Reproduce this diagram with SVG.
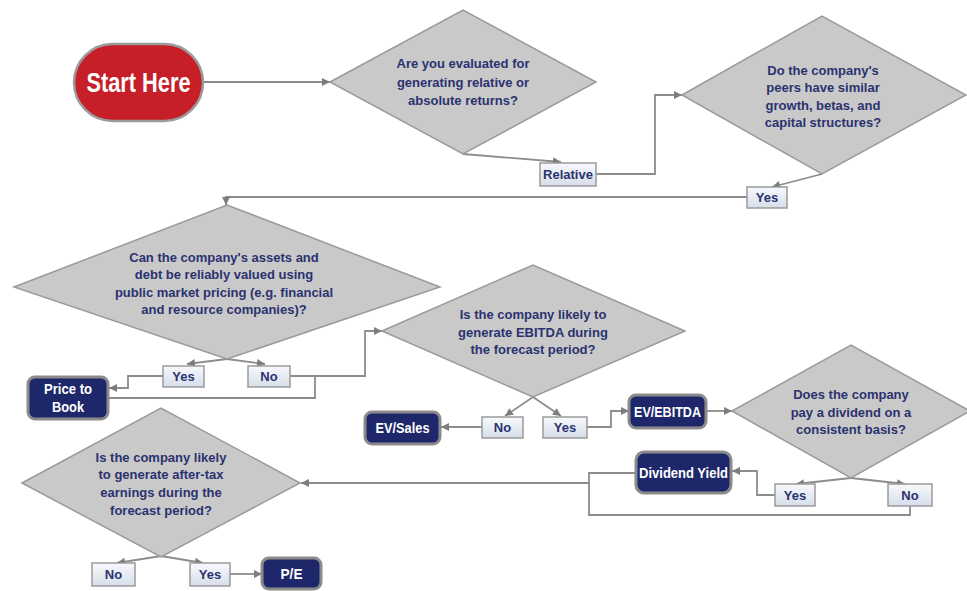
<svg xmlns="http://www.w3.org/2000/svg" width="967" height="591" viewBox="0 0 967 591">
  <defs>
    <linearGradient id="labelFill" x1="0" y1="0" x2="0" y2="1">
      <stop offset="0" stop-color="#f7f9fc"/>
      <stop offset="1" stop-color="#d6deea"/>
    </linearGradient>
    <marker id="arrow" viewBox="0 0 10 10" refX="10" refY="5" markerWidth="9" markerHeight="8" markerUnits="userSpaceOnUse" orient="auto">
      <path d="M0,0 L10,5 L0,10 z" fill="#7d7d7d"/>
    </marker>
    <style>
      .conn { fill: none; stroke: #8c8c8c; stroke-width: 1.8; }
      .conn.arr { marker-end: url(#arrow); }
      .decision polygon { fill: #c9c9c9; stroke: #9a9a9a; stroke-width: 1.5; }
      .decision text { font-family: "Liberation Sans", Arial, sans-serif; font-weight: bold; font-size: 13px; fill: #2b3270; text-anchor: middle; }
      .label rect { fill: url(#labelFill); stroke: #9a9a9a; stroke-width: 1.5; }
      .label text { font-family: "Liberation Sans", Arial, sans-serif; font-weight: bold; font-size: 13px; fill: #2b3270; text-anchor: middle; }
      .result rect { fill: #1e2769; stroke: #8b8b8b; stroke-width: 3; }
      .result text { font-family: "Liberation Sans", Arial, sans-serif; font-weight: bold; font-size: 15px; fill: #ffffff; text-anchor: middle; }
      .start rect { fill: #c61f28; stroke: #9b9b9b; stroke-width: 2.5; }
      .start text { font-family: "Liberation Sans", Arial, sans-serif; font-weight: bold; font-size: 28px; fill: #ffffff; text-anchor: middle; }
    </style>
  </defs>

  <rect width="967" height="591" fill="#ffffff"/>

  <!-- connectors -->
  <g id="connectors">
    <path class="conn arr" d="M203,82 H330"/>
    <path class="conn arr" d="M463,154 L561,162"/>
    <path class="conn arr" d="M596,174 H655 V95 H682"/>
    <path class="conn arr" d="M822,174 L772,187"/>
    <path class="conn arr" d="M747,197 H226 V205"/>
    <path class="conn arr" d="M227,359 L187,364"/>
    <path class="conn arr" d="M227,359 L265,364"/>
    <path class="conn arr" d="M163,376 H128 V388 H109"/>
    <path class="conn arr" d="M290,376 H365 V331 H382"/>
    <path class="conn" d="M315,376 V398 H108"/>
    <path class="conn arr" d="M533,397 L505,416"/>
    <path class="conn arr" d="M533,397 L561,416"/>
    <path class="conn arr" d="M482,427 H441"/>
    <path class="conn arr" d="M587,427 H611 V411 H629"/>
    <path class="conn arr" d="M706,411 H732"/>
    <path class="conn arr" d="M851,478 L796,484"/>
    <path class="conn arr" d="M851,478 L905,484"/>
    <path class="conn arr" d="M775,495 H757 V471 H732"/>
    <path class="conn arr" d="M636,473 H589 V483 H301"/>
    <path class="conn" d="M910,506 V515 H589 V483"/>
    <path class="conn arr" d="M161,556 L117,563"/>
    <path class="conn arr" d="M161,556 L203,563"/>
    <path class="conn arr" d="M230,574 H262"/>
  </g>

  <!-- start -->
  <g id="start" class="start">
    <rect x="74" y="44" width="129" height="77" rx="38.5"/>
    <text x="138.5" y="92" textLength="104" lengthAdjust="spacingAndGlyphs">Start Here</text>
  </g>

  <!-- decisions -->
  <g id="q-returns" class="decision">
    <polygon points="330,82 463,10 596,82 463,154"/>
    <text x="463" y="68">Are you evaluated for</text>
    <text x="463" y="87">generating relative or</text>
    <text x="463" y="105">absolute returns?</text>
  </g>

  <g id="q-peers" class="decision">
    <polygon points="682,95 822,16 966,95 822,174"/>
    <text x="823" y="75">Do the company's</text>
    <text x="823" y="92">peers have similar</text>
    <text x="823" y="110">growth, betas, and</text>
    <text x="823" y="127">capital structures?</text>
  </g>

  <g id="q-assets" class="decision">
    <polygon points="14,287 227,205 440,287 227,359"/>
    <text x="224" y="262">Can the company's assets and</text>
    <text x="224" y="279">debt be reliably valued using</text>
    <text x="224" y="297">public market pricing (e.g. financial</text>
    <text x="224" y="314">and resource companies)?</text>
  </g>

  <g id="q-ebitda" class="decision">
    <polygon points="382,331 533,265 685,331 533,397"/>
    <text x="533" y="319">Is the company likely to</text>
    <text x="533" y="337">generate EBITDA during</text>
    <text x="533" y="354">the forecast period?</text>
  </g>

  <g id="q-dividend" class="decision">
    <polygon points="732,411 851,345 970,411 851,478"/>
    <text x="851" y="399">Does the company</text>
    <text x="851" y="417">pay a dividend on a</text>
    <text x="851" y="434">consistent basis?</text>
  </g>

  <g id="q-earnings" class="decision">
    <polygon points="22,483 161,408 300,483 161,557"/>
    <text x="161" y="462">Is the company likely</text>
    <text x="161" y="479">to generate after-tax</text>
    <text x="161" y="497">earnings during the</text>
    <text x="161" y="515">forecast period?</text>
  </g>

  <!-- answer labels -->
  <g id="a-relative" class="label">
    <rect x="540" y="163" width="56" height="23"/>
    <text x="568" y="179">Relative</text>
  </g>
  <g id="a-peers-yes" class="label">
    <rect x="747" y="187" width="40" height="21"/>
    <text x="767" y="202">Yes</text>
  </g>
  <g id="a-assets-yes" class="label">
    <rect x="163" y="366" width="41" height="21"/>
    <text x="183.5" y="381">Yes</text>
  </g>
  <g id="a-assets-no" class="label">
    <rect x="248" y="366" width="42" height="21"/>
    <text x="269" y="381">No</text>
  </g>
  <g id="a-ebitda-no" class="label">
    <rect x="482" y="417" width="41" height="21"/>
    <text x="502.5" y="432">No</text>
  </g>
  <g id="a-ebitda-yes" class="label">
    <rect x="543" y="417" width="44" height="21"/>
    <text x="565" y="432">Yes</text>
  </g>
  <g id="a-dividend-yes" class="label">
    <rect x="775" y="484" width="40" height="22"/>
    <text x="795" y="500">Yes</text>
  </g>
  <g id="a-dividend-no" class="label">
    <rect x="888" y="484" width="44" height="22"/>
    <text x="910" y="500">No</text>
  </g>
  <g id="a-earnings-no" class="label">
    <rect x="92" y="563" width="43" height="23"/>
    <text x="113.5" y="579">No</text>
  </g>
  <g id="a-earnings-yes" class="label">
    <rect x="190" y="563" width="40" height="23"/>
    <text x="210" y="579">Yes</text>
  </g>

  <!-- valuation methods -->
  <g id="m-price-book" class="result">
    <rect x="28" y="377" width="80" height="42" rx="7"/>
    <text x="68" y="394" textLength="48" lengthAdjust="spacingAndGlyphs">Price to</text>
    <text x="68" y="412" textLength="32" lengthAdjust="spacingAndGlyphs">Book</text>
  </g>
  <g id="m-ev-sales" class="result">
    <rect x="365" y="412" width="75" height="32" rx="7"/>
    <text x="402.5" y="433" textLength="54" lengthAdjust="spacingAndGlyphs">EV/Sales</text>
  </g>
  <g id="m-ev-ebitda" class="result">
    <rect x="629" y="395" width="77" height="33" rx="7"/>
    <text x="667.5" y="417" textLength="67" lengthAdjust="spacingAndGlyphs">EV/EBITDA</text>
  </g>
  <g id="m-dividend-yield" class="result">
    <rect x="636" y="452" width="95" height="41" rx="8"/>
    <text x="683.5" y="478" textLength="89" lengthAdjust="spacingAndGlyphs">Dividend Yield</text>
  </g>
  <g id="m-pe" class="result">
    <rect x="262" y="558" width="59" height="31" rx="7"/>
    <text x="291.5" y="579" textLength="22" lengthAdjust="spacingAndGlyphs">P/E</text>
  </g>
</svg>
